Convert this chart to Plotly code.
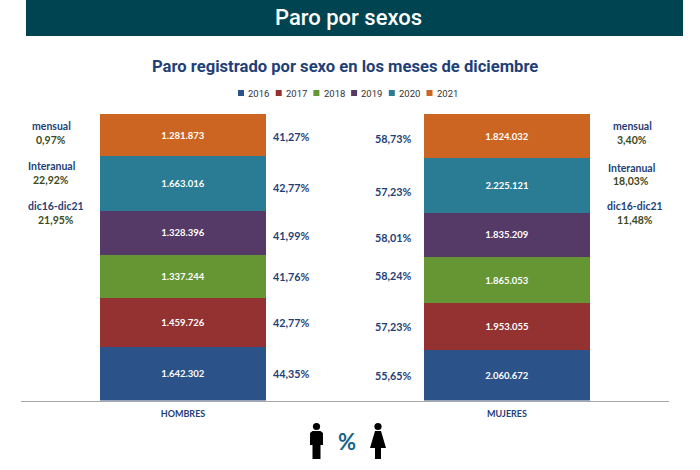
import plotly.graph_objects as go

W, H = 700, 470
categories = ["HOMBRES", "MUJERES"]
years = ["2016", "2017", "2018", "2019", "2020", "2021"]
hombres = [1642302, 1459726, 1337244, 1328396, 1663016, 1281873]
mujeres = [2060672, 1953055, 1865053, 1835209, 2225121, 1824032]
colors = ["#2B5289", "#943232", "#669634", "#553A68", "#2A7B94", "#CC6522"]
pct_h = ["44,35%", "42,77%", "41,76%", "41,99%", "42,77%", "41,27%"]
pct_m = ["55,65%", "57,23%", "58,24%", "58,01%", "57,23%", "58,73%"]
pct_h_y = [373, 322, 276, 236, 187, 136]
pct_m_y = [375, 326, 275, 237, 191, 138]
side_left = [("mensual", "0,97%", 126, 140), ("Interanual", "22,92%", 166, 180), ("dic16-dic21", "21,95%", 206, 220)]
side_right = [("mensual", "3,40%", 126, 140), ("Interanual", "18,03%", 168, 181), ("dic16-dic21", "11,48%", 206, 220)]

BLUE = "#1F3F77"
OLIVE = "#3B4A1C"
BODY = "Lato"


def fx(p):
    return p / W


def fy(p):
    return 1 - p / H


def fmt(v):
    return f"{v:,}".replace(",", ".")


fig = go.Figure()
for i, y in enumerate(years):
    vals = [hombres[i], mujeres[i]]
    fig.add_trace(go.Bar(
        name=y, x=categories, y=vals, marker=dict(color=colors[i], line=dict(width=0)),
        text=[f"<b>{fmt(v)}</b>" for v in vals], textposition="inside", insidetextanchor="middle",
        textangle=0, textfont=dict(family=BODY, size=9.5, color="white"),
        hoverinfo="skip",
    ))

ann = []


def label(x, y, text, color=BLUE, size=11, family=BODY, bold=True, anchor="center", weight=None):
    font = dict(family=family, size=size, color=color)
    if weight:
        font["weight"] = weight
    ann.append(dict(xref="paper", yref="paper", x=fx(x), y=fy(y), text=f"<b>{text}</b>" if bold else text,
                    showarrow=False, xanchor=anchor, yanchor="middle", font=font))


label(348.5, 17, "Paro por sexos", "white", 22, "Roboto", False, weight=500)
label(345, 66.5, "Paro registrado por sexo en los meses de diciembre", BLUE, 16.6, "Roboto")
for t, y in zip(pct_h, pct_h_y):
    label(291, y, t, size=10.8)
for t, y in zip(pct_m, pct_m_y):
    label(393.5, y, t, size=10.8)
for (a, b, ya, yb), x0 in zip(side_left, (51, 51.5, 56)):
    label(x0, ya, a, BLUE, 10.5)
    label(x0, yb, b, OLIVE, 10.5)
for (a, b, ya, yb), x0 in zip(side_right, (632, 631, 635)):
    label(x0, ya, a, BLUE, 10.5)
    label(x0, yb, b, OLIVE, 10.5)
label(347, 441, "%", "#17648A", 22)

shapes = [
    dict(type="rect", xref="paper", yref="paper", x0=fx(26), x1=fx(683), y0=fy(36), y1=fy(0),
         fillcolor="#004351", line=dict(width=0), layer="below"),
]

# legend drawn by hand: plotly's own legend cannot make items this tight
for i, (yr, c) in enumerate(zip(years, colors)):
    x0 = 238 + 37.7 * i
    shapes.append(dict(type="rect", xref="paper", yref="paper", x0=fx(x0), x1=fx(x0 + 6),
                       y0=fy(96), y1=fy(90), fillcolor=c, line=dict(width=0)))
    label(x0 + 8.3, 93, yr, "#333333", 9.5, "Roboto", False, "left")


def px_path(points):
    return "M " + " L ".join(f"{fx(x):.5f},{fy(y):.5f}" for x, y in points) + " Z"


def solid(points):
    shapes.append(dict(type="path", xref="paper", yref="paper", path=px_path(points),
                       fillcolor="black", line=dict(width=0)))


def head(cx, cy, r):
    shapes.append(dict(type="circle", xref="paper", yref="paper", x0=fx(cx - r), x1=fx(cx + r),
                       y0=fy(cy + r), y1=fy(cy - r), fillcolor="black", line=dict(width=0)))


# man
head(316.5, 426.5, 3.6)
solid([(312.5, 431), (320.5, 431), (323, 433), (323, 445), (320.5, 445), (320.5, 459),
       (312.5, 459), (312.5, 445), (310, 445), (310, 433)])
# woman
head(378, 426.5, 3.6)
solid([(375, 431), (381, 431), (386, 448), (381, 448), (381, 459), (375, 459), (375, 448), (370, 448)])

fig.update_layout(
    width=W, height=H, autosize=False, barmode="stack", barnorm="percent", bargap=0.488,
    paper_bgcolor="white", plot_bgcolor="white",
    margin=dict(l=0, r=0, t=0, b=0), shapes=shapes, annotations=ann,
    font=dict(family=BODY),
    showlegend=False,
    xaxis=dict(domain=[fx(21), fx(669)], anchor="y", showline=True, linecolor="#A6A6A6", linewidth=1,
               ticks="", showgrid=False, zeroline=False,
               tickfont=dict(family=BODY, size=9, color=BLUE, weight="bold"), ticklabelstandoff=5),
    yaxis=dict(domain=[fy(400.5), fy(114)], range=[0, 100], visible=False, showgrid=False),
)
fig.write_html("out.html", config={"displayModeBar": False},
               post_script="document.body.style.margin='0';document.body.style.overflow='hidden';")
